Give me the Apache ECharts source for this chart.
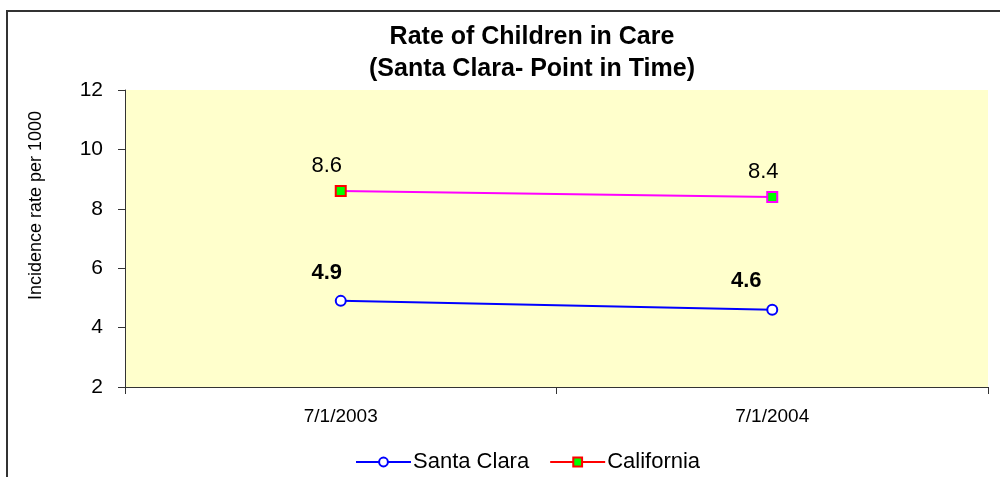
<!DOCTYPE html>
<html>
<head>
<meta charset="utf-8">
<script src="https://cdn.jsdelivr.net/npm/echarts@6/dist/echarts.min.js"></script>
<style>
  html, body { margin: 0; padding: 0; background: #fff; }
  #chart { width: 1000px; height: 477px; }
</style>
</head>
<body>
<div id="chart"></div>
<script>
// data
const categories = ["7/1/2003", "7/1/2004"];
const santaClara = [4.9, 4.6];
const california = [8.6, 8.4];
const yTicks = [2, 4, 6, 8, 10, 12];

const font = "Liberation Sans, Arial, sans-serif";

var myChart = echarts.init(document.getElementById("chart"), null, {
  width: 1000,
  height: 477,
});

// label offsets per point (Excel had them nudged by hand)
const scOffsets = [[-14, 0], [-26, -1]];
const caOffsets = [[-14, 0], [-9, 0]];
const caBorders = ["#ff0000", "#ff00ff"];

myChart.setOption({
  animation: false,
  backgroundColor: "#fff",
  textStyle: { fontFamily: font },
  title: {
    text: "Rate of Children in Care\n(Santa Clara- Point in Time)",
    left: 527,
    textAlign: "center",
    top: 16,
    textStyle: {
      fontSize: 25,
      fontWeight: "bold",
      color: "#000",
      lineHeight: 32,
      fontFamily: font,
    },
  },
  graphic: [
    {
      type: "rect",
      shape: { x: 7, y: 11, width: 1010, height: 500 },
      style: { fill: "none", stroke: "#333", lineWidth: 2 },
      silent: true,
    },
  ],
  grid: {
    left: 125,
    right: 12,
    top: 90,
    bottom: 90,
    show: true,
    backgroundColor: "#ffffcc",
    borderWidth: 0,
  },
  legend: {
    top: 446,
    left: 350,
    itemWidth: 55,
    itemHeight: 11,
    itemGap: 20,
    textStyle: { fontSize: 22, color: "#000", fontFamily: font, padding: [0, 0, 0, -3] },
    data: [
      { name: "Santa Clara" },
      {
        name: "California",
        lineStyle: { color: "#ff0000" },
        itemStyle: { borderColor: "#ff0000", color: "#00ff00" },
      },
    ],
  },
  xAxis: {
    type: "category",
    data: categories,
    boundaryGap: true,
    axisLine: { lineStyle: { color: "#333", width: 1 } },
    axisTick: { show: true, length: 7, lineStyle: { color: "#333" } },
    axisLabel: { fontSize: 19, color: "#000", margin: 20, fontFamily: font },
    splitLine: { show: false },
  },
  yAxis: {
    type: "value",
    min: yTicks[0],
    max: yTicks[yTicks.length - 1],
    interval: 2,
    name: "Incidence rate per 1000",
    nameLocation: "middle",
    nameGap: 80,
    nameRotate: 90,
    nameTextStyle: {
      fontSize: 18,
      color: "#000",
      fontFamily: font,
      padding: [0, 0, 0, 66],
    },
    axisLine: { show: true, lineStyle: { color: "#333", width: 1 } },
    axisTick: { show: true, length: 7, lineStyle: { color: "#333" } },
    axisLabel: { fontSize: 21, color: "#000", margin: 22, fontFamily: font },
    splitLine: { show: false },
  },
  series: [
    {
      name: "Santa Clara",
      type: "line",
      data: santaClara.map((v, i) => ({
        value: v,
        label: { offset: scOffsets[i] },
      })),
      symbol: "circle",
      symbolSize: 10,
      lineStyle: { color: "#0000ff", width: 2 },
      itemStyle: { color: "#fff", borderColor: "#0000ff", borderWidth: 2 },
      label: {
        show: true,
        position: "top",
        distance: 11,
        fontSize: 22,
        fontWeight: "bold",
        color: "#000",
        fontFamily: font,
      },
    },
    {
      name: "California",
      type: "line",
      data: california.map((v, i) => ({
        value: v,
        label: { offset: caOffsets[i] },
        itemStyle: { borderColor: caBorders[i] },
      })),
      symbol: "rect",
      symbolSize: 10,
      lineStyle: { color: "#ff00ff", width: 2 },
      itemStyle: { color: "#00ff00", borderColor: "#ff0000", borderWidth: 2 },
      label: {
        show: true,
        position: "top",
        distance: 8,
        fontSize: 22,
        color: "#000",
        fontFamily: font,
      },
    },
  ],
});
</script>
</body>
</html>
